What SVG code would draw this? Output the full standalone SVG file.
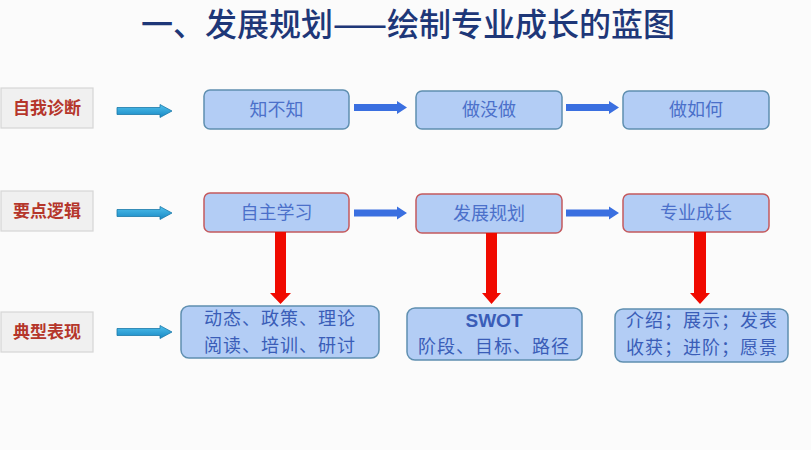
<svg xmlns="http://www.w3.org/2000/svg" width="811" height="450" viewBox="0 0 811 450">
  <defs>
    <linearGradient id="teal" x1="0" y1="0" x2="0" y2="1">
      <stop offset="0" stop-color="#4FC0EC"/>
      <stop offset="1" stop-color="#1888C4"/>
    </linearGradient>
    <style>
      .cjk { font-family: "Noto Sans CJK SC", "Noto Sans", sans-serif; }
      .title { font-size: 32px; fill: #1E3778; font-weight: 500; }
      .lab { fill: #F0F0F0; stroke: #D6D6D6; stroke-width: 1.2; }
      .labt { font-size: 17px; fill: #B5362B; font-weight: 700; }
      .bx { fill: #B3CDF5; stroke: #5F8FB0; stroke-width: 1.5; }
      .bxr { fill: #B3CDF5; stroke: #C45A5E; stroke-width: 1.5; }
      .t { font-size: 18px; fill: #4B70CA; }
      .t3 { font-size: 18px; fill: #3A5DB8; }
      .teal { fill: url(#teal); stroke: #1B78A8; stroke-width: 0.8; }
      .blue { fill: #3A6FE0; }
      .red { fill: #F00A00; }
    </style>
  </defs>
  <rect width="811" height="450" fill="#FBFBFB"/>

  <text class="cjk title" x="408" y="36" text-anchor="middle">一、发展规划——绘制专业成长的蓝图</text>

  <g id="label-zwzd"><rect class="lab" x="1" y="88" width="92" height="40"/><text class="cjk labt" x="47" y="114" text-anchor="middle">自我诊断</text></g>
  <g id="label-ydlj"><rect class="lab" x="1" y="191" width="92" height="40"/><text class="cjk labt" x="47" y="217" text-anchor="middle">要点逻辑</text></g>
  <g id="label-dxbx"><rect class="lab" x="1" y="312" width="92" height="40"/><text class="cjk labt" x="47" y="338" text-anchor="middle">典型表现</text></g>

  <g id="node-zbz"><rect class="bx" x="204" y="90" width="145" height="39" rx="6"/><text class="cjk t" x="276.5" y="116" text-anchor="middle">知不知</text></g>
  <g id="node-zmz"><rect class="bx" x="416" y="91" width="146" height="38" rx="6"/><text class="cjk t" x="489" y="116" text-anchor="middle">做没做</text></g>
  <g id="node-zrh"><rect class="bx" x="623" y="91" width="146" height="38" rx="6"/><text class="cjk t" x="696" y="116" text-anchor="middle">做如何</text></g>

  <g id="node-zzxx"><rect class="bxr" x="204" y="193" width="145" height="39" rx="6"/><text class="cjk t" x="276.5" y="219" text-anchor="middle">自主学习</text></g>
  <g id="node-fzgh"><rect class="bxr" x="416" y="194" width="146" height="39" rx="6"/><text class="cjk t" x="489" y="220" text-anchor="middle">发展规划</text></g>
  <g id="node-zycz"><rect class="bxr" x="623" y="194" width="146" height="38" rx="6"/><text class="cjk t" x="696" y="219" text-anchor="middle">专业成长</text></g>

  <g id="node-dt"><rect class="bx" x="181" y="306" width="198" height="52" rx="8"/>
    <text class="cjk t3" x="280" y="325" text-anchor="middle" letter-spacing="1">动态、政策、理论</text>
    <text class="cjk t3" x="280" y="351.5" text-anchor="middle" letter-spacing="1">阅读、培训、研讨</text></g>
  <g id="node-swot"><rect class="bx" x="407" y="308" width="175" height="52" rx="8"/>
    <text x="494" y="327" text-anchor="middle" font-family="Liberation Sans, Arial, sans-serif" font-size="19" font-weight="700" fill="#3A5DB8">SWOT</text>
    <text class="cjk t3" x="494" y="353" text-anchor="middle" letter-spacing="1">阶段、目标、路径</text></g>
  <g id="node-js"><rect class="bx" x="615" y="309" width="173" height="53" rx="8"/>
    <text class="cjk t3" x="702" y="327" text-anchor="middle" letter-spacing="1">介绍；展示；发表</text>
    <text class="cjk t3" x="702" y="353.5" text-anchor="middle" letter-spacing="1">收获；进阶；愿景</text></g>

  <g id="connectors">
    <polygon class="teal" points="117,107.5 160,107.5 160,104.5 172,111 160,117.5 160,114.5 117,114.5"/>
    <polygon class="teal" points="117,209.5 160,209.5 160,206.5 172,213 160,219.5 160,216.5 117,216.5"/>
    <polygon class="teal" points="117,328.5 160,328.5 160,325.5 172,332 160,338.5 160,335.5 117,335.5"/>

    <polygon class="blue" points="354,104 397,104 397,101 407,107.5 397,114 397,111 354,111"/>
    <polygon class="blue" points="566,104 609,104 609,101 619,107.5 609,114 609,111 566,111"/>
    <polygon class="blue" points="354,209.5 397,209.5 397,206.5 407,213 397,219.5 397,216.5 354,216.5"/>
    <polygon class="blue" points="566,209.5 609,209.5 609,206.5 619,213 609,219.5 609,216.5 566,216.5"/>

    <polygon class="red" points="275,232 286,232 286,293 291,293 280.5,304 270,293 275,293"/>
    <polygon class="red" points="486,233 497,233 497,293 501,293 491.5,304 482,293 486,293"/>
    <polygon class="red" points="694,232 706,232 706,293 710,293 700,304 690,293 694,293"/>
  </g>
</svg>
